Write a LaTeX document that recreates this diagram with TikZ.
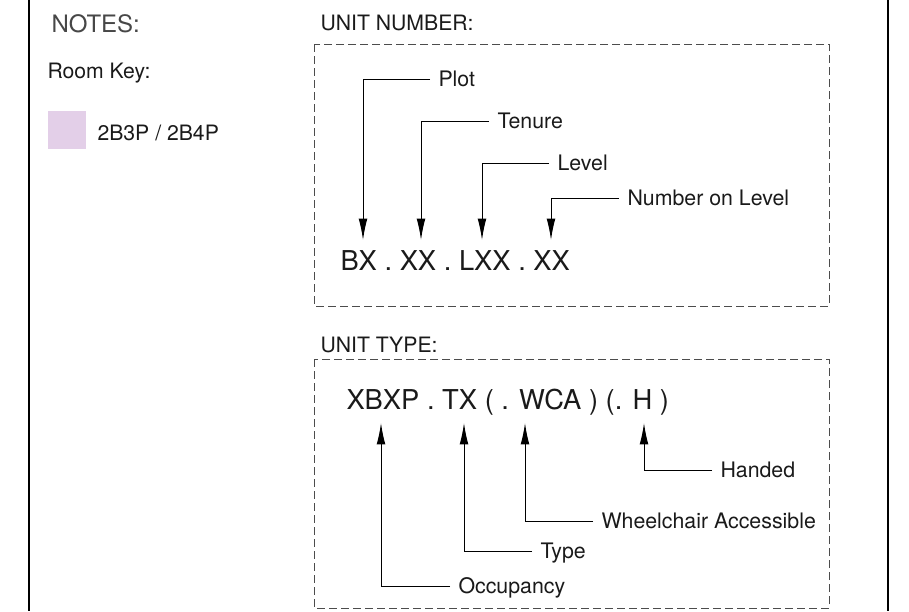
\documentclass[tikz,border=0pt]{standalone}
\usepackage{fontspec}
\setmainfont{TeX Gyre Heros}
\usetikzlibrary{arrows.meta}
\definecolor{roomkey}{RGB}{227,207,232}
\definecolor{inktext}{RGB}{26,26,26}
\tikzset{every picture/.style={line width=0.75pt}}
\tikzset{
  lbl/.style={anchor=west, inner xsep=6pt, inner ysep=0pt, text height=11.5pt, text depth=0pt, font=\fontsize{16}{19}\selectfont, text=inktext},
  head/.style={anchor=west, inner sep=0pt, text height=11.4pt, text depth=0pt, font=\fontsize{15.9}{19}\selectfont, text=inktext},
  code/.style={anchor=west, inner sep=0pt, text height=14.7pt, text depth=0pt, font=\fontsize{20.5}{24}\selectfont, text=inktext},
  pointer/.style={draw=black, line width=0.75pt, -{Latex[length=16pt,width=6.5pt]}},
  keybox/.style={draw=black!70, dash pattern=on 6pt off 3pt, line width=0.75pt},
}

\begin{document}
\begin{tikzpicture}[x=0.75pt,y=0.75pt,yscale=-1,xscale=1]
\useasboundingbox (0,0) rectangle (909,611);

% Frame lines
\draw[line width=1.5pt] (29,0) -- (29,611);
\draw[line width=1.5pt] (888,0) -- (888,611);

% Notes column
\node[head, text height=12.9pt, font=\fontsize{18}{21}\selectfont, text=black!72] (notes) at (51,24) {NOTES:};
\node[head] (roomkey) at (47,71) {Room Key:};
\fill[roomkey] (48,111) rectangle (86,149);
\node[head] (keyname) at (97,133) {2B3P / 2B4P};

% Unit number
\node[head] (numhead) at (320,23) {UNIT NUMBER:};
\draw[keybox] (314,44) rectangle (829,306);
\node[code] (numcode) at (340,261) {BX . XX . LXX . XX};
\coordinate (plotTip) at (363,240);
\coordinate (tenureTip) at (421,240);
\coordinate (levelTip) at (482,240);
\coordinate (onlevelTip) at (551,240);
% Text Node
\node[lbl] (plot) at (430,79) {Plot};
\node[lbl] (tenure) at (489,121) {Tenure};
\node[lbl] (level) at (549,163) {Level};
\node[lbl] (onlevel) at (619,198) {Number on Level};
\draw[pointer] (plot.west) -| (plotTip);
\draw[pointer] (tenure.west) -| (tenureTip);
\draw[pointer] (level.west) -| (levelTip);
\draw[pointer] (onlevel.west) -| (onlevelTip);

% Unit type
\node[head] (typehead) at (320,345) {UNIT TYPE:};
\draw[keybox] (314,359) rectangle (829,608);
\node[code] (typecode) at (346,400) {XBXP . TX ( . WCA ) (. H )};
\coordinate (occTip) at (381,423);
\coordinate (typeTip) at (464,423);
\coordinate (wcaTip) at (525,423);
\coordinate (handTip) at (644,423);
% Text Node
\node[lbl] (handed) at (712,470) {Handed};
\node[lbl] (wca) at (593,521) {Wheelchair Accessible};
\node[lbl] (type) at (532,551) {Type};
\node[lbl] (occ) at (450,586) {Occupancy};
\draw[pointer] (handed.west) -| (handTip);
\draw[pointer] (wca.west) -| (wcaTip);
\draw[pointer] (type.west) -| (typeTip);
\draw[pointer] (occ.west) -| (occTip);

\end{tikzpicture}
\end{document}
